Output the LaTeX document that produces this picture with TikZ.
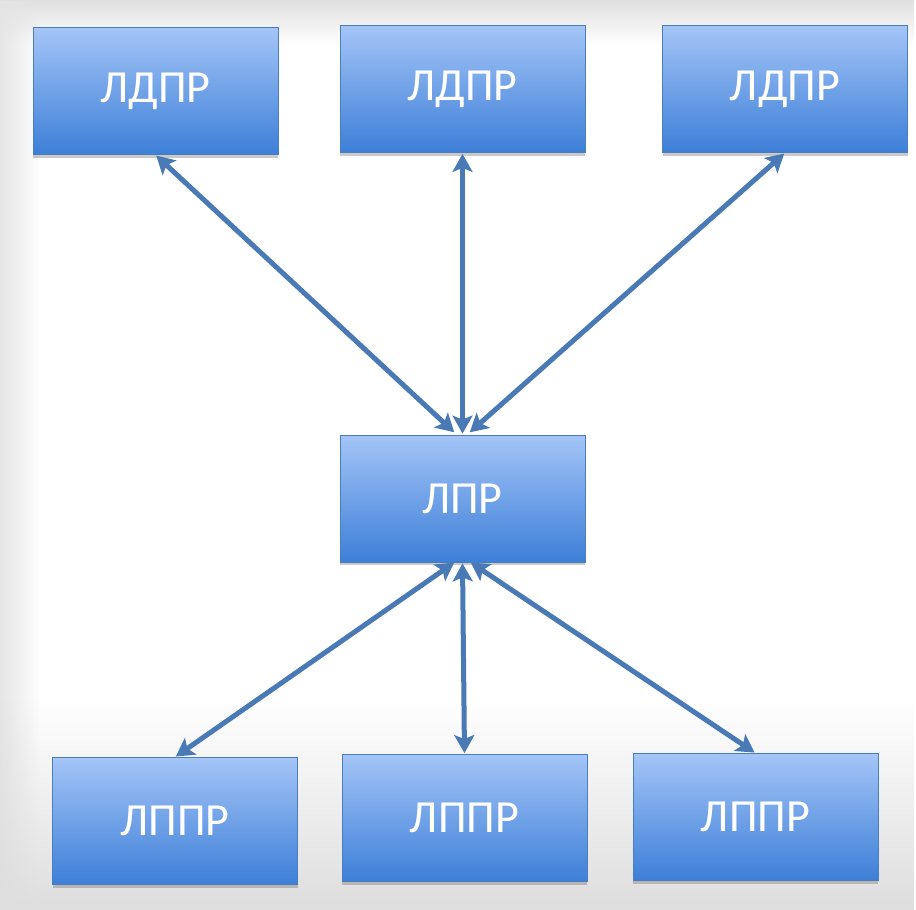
\documentclass[tikz,border=0pt]{standalone}
\usepackage{fontspec}
\setmainfont{Carlito}
\usetikzlibrary{shadows,arrows.meta,fadings}
\definecolor{boxtop}{HTML}{A4C5F7}
\definecolor{boxbot}{HTML}{3D7FD8}
\definecolor{boxedge}{HTML}{4A7EBB}
\definecolor{arrowc}{HTML}{4A7AB5}
\tikzfading[name=fadedown, top color=transparent!0, bottom color=transparent!100]
\tikzfading[name=fadeup, top color=transparent!100, bottom color=transparent!0]
\tikzfading[name=faderight, left color=transparent!0, right color=transparent!100]
\tikzset{
  box/.style={rectangle, minimum width=245pt, minimum height=127pt, inner sep=0pt,
    draw=boxedge, line width=0.8pt, top color=boxtop, bottom color=boxbot,
    drop shadow={shadow xshift=0pt, shadow yshift=-3pt, opacity=0.35, fill=black!60},
    text=white, font=\fontsize{46}{50}\selectfont},
  link/.style={draw=arrowc, line width=5pt, {Stealth[length=18pt,width=20pt,inset=4pt]}-{Stealth[length=18pt,width=20pt,inset=4pt]}, shorten <=1pt, shorten >=1pt}
}
\begin{document}
\begin{tikzpicture}[x=1pt,y=-1pt]
\useasboundingbox (0,0) rectangle (916,910);
\fill[white] (0,0) rectangle (916,910);
\fill[black!12, path fading=fadedown] (0,0) rectangle (916,45);
\fill[black!10, path fading=faderight] (0,0) rectangle (40,910);
\fill[black!13, path fading=fadeup] (0,700) rectangle (916,910);
\node[box] (tl) at (155.5,91) {ЛДПР};
\node[box] (tm) at (462.5,89) {ЛДПР};
\node[box] (tr) at (785,89) {ЛДПР};
\node[box] (m) at (462.5,498.5) {ЛПР};
\node[box] (bl) at (175,821) {ЛППР};
\node[box] (bm) at (464.5,818) {ЛППР};
\node[box] (br) at (755.5,817) {ЛППР};
\coordinate (mt1) at (455,433);
\coordinate (mt3) at (469,433);
\coordinate (mb1) at (455,562);
\coordinate (mb3) at (470,562);
\draw[link] (tl.south) -- (mt1);
\draw[link] (tm.south) -- (m.north);
\draw[link] (tr.south) -- (mt3);
\draw[link] (mb1) -- (bl.north);
\draw[link] (m.south) -- (bm.north);
\draw[link] (mb3) -- (br.north);
\end{tikzpicture}
\end{document}
